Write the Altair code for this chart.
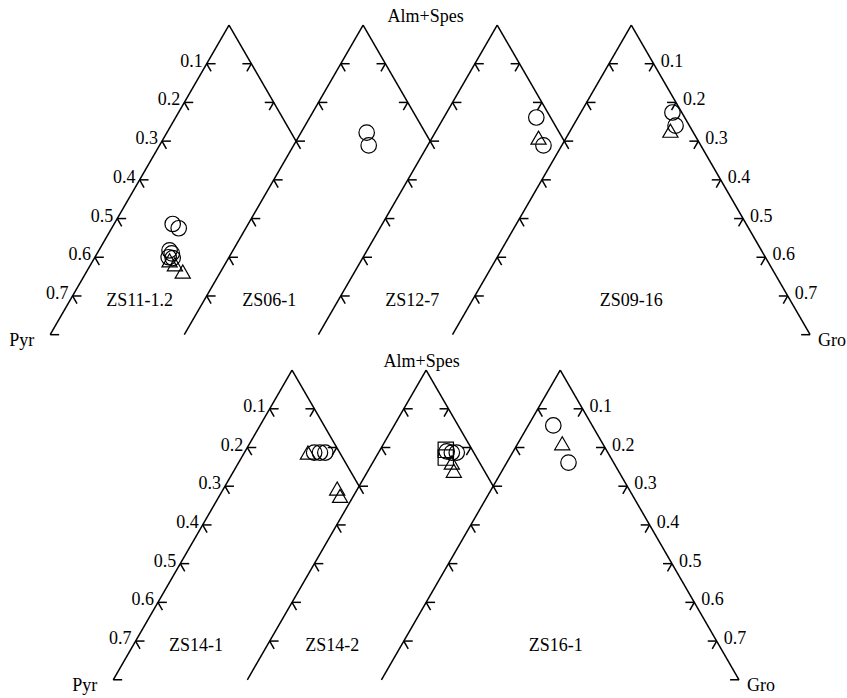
import math

import altair as alt
import pandas as pd

# Garnet compositions as end-member fractions: Pyr and Gro, Alm+Spes is the remainder
samples = ["ZS11-1.2", "ZS06-1", "ZS12-7", "ZS09-16", "ZS14-1", "ZS14-2", "ZS16-1"]
zones = ["核部", "幔部", "边部"]

pt_sample = (["ZS11-1.2"] * 9 + ["ZS06-1"] * 2 + ["ZS12-7"] * 3 + ["ZS09-16"] * 3
             + ["ZS14-1"] * 6 + ["ZS14-2"] * 7 + ["ZS16-1"] * 3)
pt_zone = (["核部"] * 6 + ["边部"] * 3
           + ["核部"] * 2
           + ["核部", "核部", "边部"]
           + ["核部", "核部", "边部"]
           + ["核部"] * 3 + ["边部"] * 3
           + ["幔部"] * 2 + ["核部"] * 3 + ["边部"] * 2
           + ["核部", "核部", "边部"])
pt_pyr = [0.383, 0.375, 0.424, 0.423, 0.435, 0.427, 0.437, 0.430, 0.422,
          0.131, 0.143,
          0.032, 0.052, 0.053,
          0.021, 0.031, 0.049,
          0.057, 0.044, 0.032, 0.071, 0.052, 0.055,
          0.059, 0.069, 0.059, 0.049, 0.038, 0.062, 0.068,
          0.087, 0.101, 0.090]
pt_gro = [0.131, 0.150, 0.158, 0.167, 0.165, 0.175, 0.171, 0.188, 0.215,
          0.147, 0.168,
          0.207, 0.259, 0.238,
          0.205, 0.229, 0.224,
          0.156, 0.169, 0.181, 0.142, 0.254, 0.270,
          0.147, 0.157, 0.151, 0.164, 0.175, 0.177, 0.192,
          0.056, 0.138, 0.099]

axis_ticks = [0.1, 0.2, 0.3, 0.4, 0.5, 0.6, 0.7]

# Layout of the overlapping triangles: each row shifts its triangles by STEP
STEP = 0.3
EDGE = 0.8          # triangles are cut at this fraction
TICK = 0.02
H = math.sqrt(3) / 2
rows = [
    {"x0": 0.0, "y0": 0.0, "panels": samples[:4], "lab_dx": [-0.2, -0.21, -0.19, 0.0]},
    {"x0": 0.141, "y0": 0.772, "panels": samples[4:], "lab_dx": [-0.215, -0.21, -0.01]},
]
LABEL_DY = 0.617


def tern(ax, ay, p, g):
    return ax + (g - p) / 2, ay + (g + p) * H


segs, tlab_l, tlab_r, names, ends, tops = [], [], [], [], [], []
apex_of = {}


def seg(ax, ay, a, b):
    x, y = tern(ax, ay, *a)
    x2, y2 = tern(ax, ay, *b)
    segs.append({"x": x, "y": y, "x2": x2, "y2": y2})


for row in rows:
    n = len(row["panels"])
    for i, name in enumerate(row["panels"]):
        ax, ay = row["x0"] + i * STEP, row["y0"]
        apex_of[name] = (ax, ay)
        last = i == n - 1
        seg(ax, ay, (0, 0), (EDGE, 0))
        seg(ax, ay, (0, 0), (0, EDGE if last else STEP))
        for v in axis_ticks:
            seg(ax, ay, (v, 0), (v - TICK, TICK))
            seg(ax, ay, (v, 0), (v, TICK))
            if i == 0:
                x, y = tern(ax, ay, v, 0)
                tlab_l.append({"x": x, "y": y, "t": f"{v:.1f}"})
        for v in (axis_ticks if last else axis_ticks[:2]):
            seg(ax, ay, (0, v), (TICK, v - TICK))
            seg(ax, ay, (0, v), (TICK, v))
            if last:
                x, y = tern(ax, ay, 0, v)
                tlab_r.append({"x": x, "y": y, "t": f"{v:.1f}"})
        if i == 0:
            seg(ax, ay, (EDGE, 0), (EDGE - TICK, TICK))
            x, y = tern(ax, ay, EDGE, 0)
            ends.append({"x": x, "y": y, "t": "Pyr", "side": "l"})
        if last:
            seg(ax, ay, (0, EDGE), (TICK, EDGE - TICK))
            x, y = tern(ax, ay, 0, EDGE)
            ends.append({"x": x, "y": y, "t": "Gro", "side": "r"})
        names.append({"x": ax + row["lab_dx"][i], "y": ay + LABEL_DY, "t": name})
    tops.append({"x": row["x0"] + (n - 1) * STEP / 2 - 0.01, "y": row["y0"], "t": "Alm+Spes"})

seg_df = pd.DataFrame(segs)
pts = pd.DataFrame({"sample": pt_sample, "zone": pt_zone, "pyr": pt_pyr, "gro": pt_gro})
pts["x"] = [apex_of[s][0] + (g - p) / 2 for s, p, g in zip(pts["sample"], pts["pyr"], pts["gro"])]
pts["y"] = [apex_of[s][1] + (g + p) * H for s, p, g in zip(pts["sample"], pts["pyr"], pts["gro"])]

PX = 447.0
xs = alt.Scale(domain=[-229 / PX, 618 / PX], nice=False, zero=False)
ys = alt.Scale(domain=[-25 / PX, 673 / PX], nice=False, zero=False, reverse=True)
X = alt.X("x:Q", scale=xs, axis=None)
Y = alt.Y("y:Q", scale=ys, axis=None)
SERIF = "Liberation Serif"
FS = 18

lines = alt.Chart(seg_df).mark_rule(color="black", strokeWidth=1.5).encode(
    x=X, y=Y, x2="x2:Q", y2="y2:Q")

left_lab = alt.Chart(pd.DataFrame(tlab_l)).mark_text(
    font=SERIF, fontSize=FS, align="right", baseline="middle", dx=-4, dy=-2, color="black"
).encode(x=X, y=Y, text="t:N")
right_lab = alt.Chart(pd.DataFrame(tlab_r)).mark_text(
    font=SERIF, fontSize=FS, align="left", baseline="middle", dx=7, dy=-2, color="black"
).encode(x=X, y=Y, text="t:N")

end_df = pd.DataFrame(ends)
pyr_lab = alt.Chart(end_df[end_df.side == "l"]).mark_text(
    font=SERIF, fontSize=FS, align="right", baseline="middle", dx=-16, dy=6, color="black"
).encode(x=X, y=Y, text="t:N")
gro_lab = alt.Chart(end_df[end_df.side == "r"]).mark_text(
    font=SERIF, fontSize=FS, align="left", baseline="middle", dx=8, dy=6, color="black"
).encode(x=X, y=Y, text="t:N")

top_lab = alt.Chart(pd.DataFrame(tops)).mark_text(
    font=SERIF, fontSize=FS, align="center", baseline="middle", dy=-8, color="black"
).encode(x=X, y=Y, text="t:N")
name_lab = alt.Chart(pd.DataFrame(names)).mark_text(
    font=SERIF, fontSize=FS, align="center", baseline="middle", color="black"
).encode(x=X, y=Y, text="t:N")

points = alt.Chart(pts).mark_point(
    filled=False, color="black", strokeWidth=1.2, opacity=1
).encode(
    x=X, y=Y,
    size=alt.Size("zone:N", scale=alt.Scale(domain=zones, range=[240, 230, 300]), legend=None),
    shape=alt.Shape(
        "zone:N",
        scale=alt.Scale(domain=zones, range=["circle", "square", "triangle-up"]),
        legend=alt.Legend(
            title=None, orient="none", legendX=744, legendY=453, padding=0,
            symbolSize=220, symbolStrokeColor="black", symbolFillColor="transparent",
            symbolStrokeWidth=1.2, labelFont="Noto Sans CJK SC", labelFontSize=17,
            labelColor="black", rowPadding=11, labelOffset=8,
            labelExpr="'\u2501\u2002 ' + datum.label",
        ),
    ),
)

chart = alt.layer(
    lines, left_lab, right_lab, pyr_lab, gro_lab, top_lab, name_lab, points
).properties(
    width=847, height=698, autosize=alt.AutoSizeParams(type="none"), padding=0,
    background="white",
).configure_view(stroke=None)

chart.save("out.html", embed_options={"renderer": "svg", "actions": False})
